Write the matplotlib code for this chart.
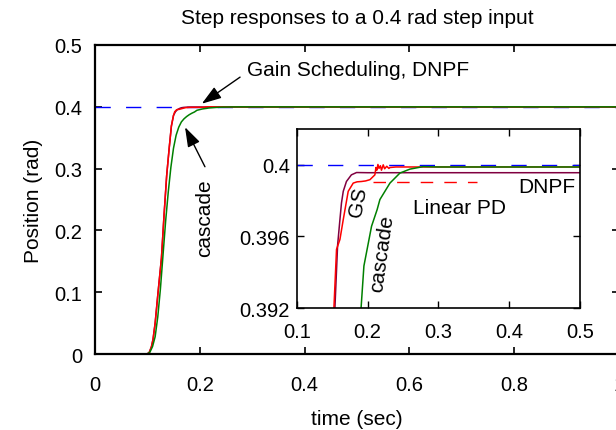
import matplotlib
matplotlib.use("Agg")
import matplotlib.pyplot as plt

plt.rcParams['font.family'] = ['Liberation Sans', 'DejaVu Sans']

# step reference
ref_val = 0.4

# gain scheduling (red)
gs_t = [0, 0.1, 0.104, 0.108, 0.111, 0.115, 0.12, 0.127, 0.132, 0.137, 0.142, 0.146, 0.150,
        0.1523, 0.156, 0.1608, 0.1655, 0.1725, 0.1796, 0.185, 0.1914, 0.197, 0.2032, 0.2102,
        0.2117, 0.213, 0.2145, 0.216, 0.218, 0.2195, 0.222, 0.224, 0.227, 0.23, 0.2315, 0.24, 1.0]
gs_y = [0, 0, 0.003, 0.012, 0.024, 0.05, 0.095, 0.155, 0.225, 0.289, 0.335, 0.369, 0.386,
        0.392, 0.39528, 0.39583, 0.39694, 0.39852, 0.39898, 0.39905, 0.39907, 0.3991, 0.39917, 0.39944,
        0.39985, 0.3997, 0.40002, 0.3998, 0.39995, 0.3997, 0.4, 0.39978, 0.39992, 0.3998, 0.39985, 0.39988, 0.39988]

# cascade (green)
cas_t = [0, 0.1, 0.105, 0.11, 0.115, 0.12, 0.125, 0.13, 0.135, 0.14, 0.145, 0.15, 0.155, 0.16,
         0.165, 0.17, 0.175, 0.18, 0.185, 0.19, 0.1947, 0.2055, 0.2134, 0.2173, 0.2315, 0.2456,
         0.2597, 0.2785, 0.30, 1.0]
cas_y = [0, 0, 0.003, 0.012, 0.028, 0.06, 0.105, 0.16, 0.215, 0.262, 0.302, 0.333, 0.354, 0.367,
         0.3755, 0.3805, 0.3842, 0.3872, 0.3896, 0.3916, 0.39435, 0.39657, 0.3975, 0.39806, 0.39898, 0.39954,
         0.39976, 0.3999, 0.39988, 0.39988]

# DNPF (purple)
dnpf_t = [0, 0.1, 0.104, 0.108, 0.111, 0.115, 0.12, 0.127, 0.132, 0.137, 0.142, 0.146, 0.150,
          0.1537, 0.1575, 0.1608, 0.163, 0.1655, 0.170, 0.177, 0.1843, 0.20, 1.0]
dnpf_y = [0, 0, 0.003, 0.012, 0.024, 0.05, 0.095, 0.155, 0.225, 0.289, 0.335, 0.369, 0.386,
          0.392, 0.3955, 0.39694, 0.39787, 0.39852, 0.39907, 0.39944, 0.39957, 0.39956, 0.39956]

# linear PD (red dashed, inset only)
lpd_t = [0.207, 0.354]
lpd_y = [0.39904, 0.39904]

xticks = [0, 0.2, 0.4, 0.6, 0.8, 1]
xticklabels = ['0', '0.2', '0.4', '0.6', '0.8', '1']
yticks = [0, 0.1, 0.2, 0.3, 0.4, 0.5]
yticklabels = ['0', '0.1', '0.2', '0.3', '0.4', '0.5']
in_xticks = [0.1, 0.2, 0.3, 0.4, 0.5]
in_xticklabels = ['0.1', '0.2', '0.3', '0.4', '0.5']
in_yticks = [0.392, 0.396, 0.4]
in_yticklabels = ['0.392', '0.396', '0.4']

purple = '#800040'
green = '#008000'
red = '#ff0000'
blue = '#0000ff'

fig = plt.figure(figsize=(6.16, 4.31), dpi=100)
ax = fig.add_axes([0.154, 0.1763, 0.851, 0.717])

ax.plot([0, 1], [ref_val, ref_val], color=blue, lw=1, dashes=(11, 11))
ax.plot(dnpf_t, dnpf_y, color=purple, lw=1.1)
ax.plot(gs_t, gs_y, color=red, lw=1.1)
ax.plot(cas_t, cas_y, color=green, lw=1.1)

ax.set_xlim(0, 1)
ax.set_ylim(0, 0.5)
ax.set_xticks(xticks)
ax.set_xticklabels(xticklabels)
ax.set_yticks(yticks)
ax.set_yticklabels(yticklabels)
ax.tick_params(direction='in', top=True, right=True, length=5, width=1.2, labelsize=14.5)
ax.tick_params(axis='x', pad=15)
ax.tick_params(axis='y', pad=9)
for s in ax.spines.values():
    s.set_linewidth(1.6)
ax.set_xlabel('time (sec)', fontsize=15, labelpad=11)
ax.set_ylabel('Position (rad)', fontsize=15, labelpad=8)
fig.text(0.58, 0.958, 'Step responses to a 0.4 rad step input', fontsize=15, ha='center', va='center')

arrow = dict(arrowstyle='-|>,head_length=0.6,head_width=0.2', color='k', lw=1,
             mutation_scale=20, shrinkA=0, shrinkB=0)
ax.text(0.29, 0.461, 'Gain Scheduling, DNPF', fontsize=15, va='center', ha='left')
ax.annotate('', xy=(0.204, 0.405), xytext=(0.277, 0.448), arrowprops=arrow)
ax.text(0.21, 0.222, 'cascade', fontsize=15, va='center', ha='center', rotation=90)
ax.annotate('', xy=(0.172, 0.367), xytext=(0.21, 0.303), arrowprops=arrow)

ins = fig.add_axes([0.482, 0.283, 0.4594, 0.4153])
ins.plot([0.1, 0.5], [ref_val, ref_val], color=blue, lw=1, dashes=(11, 11))
ins.plot(lpd_t, lpd_y, color=red, lw=1, dashes=(9, 8))
ins.plot(dnpf_t, dnpf_y, color=purple, lw=1.1)
ins.plot(gs_t, gs_y, color=red, lw=1.1)
ins.plot(cas_t, cas_y, color=green, lw=1.1)
ins.set_xlim(0.1, 0.5)
ins.set_ylim(0.392, 0.402)
ins.set_xticks(in_xticks)
ins.set_xticklabels(in_xticklabels)
ins.set_yticks(in_yticks)
ins.set_yticklabels(in_yticklabels)
ins.tick_params(direction='in', top=True, right=True, length=5, width=1, labelsize=14.5)
ins.tick_params(axis='x', pad=10)
ins.tick_params(axis='y', pad=5)
for s in ins.spines.values():
    s.set_linewidth(1.2)

ins.text(0.186, 0.39794, 'GS', fontsize=15, rotation=80, ha='center', va='center')
ins.text(0.2197, 0.39511, 'cascade', fontsize=15, rotation=82, ha='center', va='center')
ins.text(0.330, 0.39761, 'Linear PD', fontsize=15, ha='center', va='center')
ins.text(0.453, 0.39879, 'DNPF', fontsize=15, ha='center', va='center')

fig.savefig('out.png', dpi=100)
